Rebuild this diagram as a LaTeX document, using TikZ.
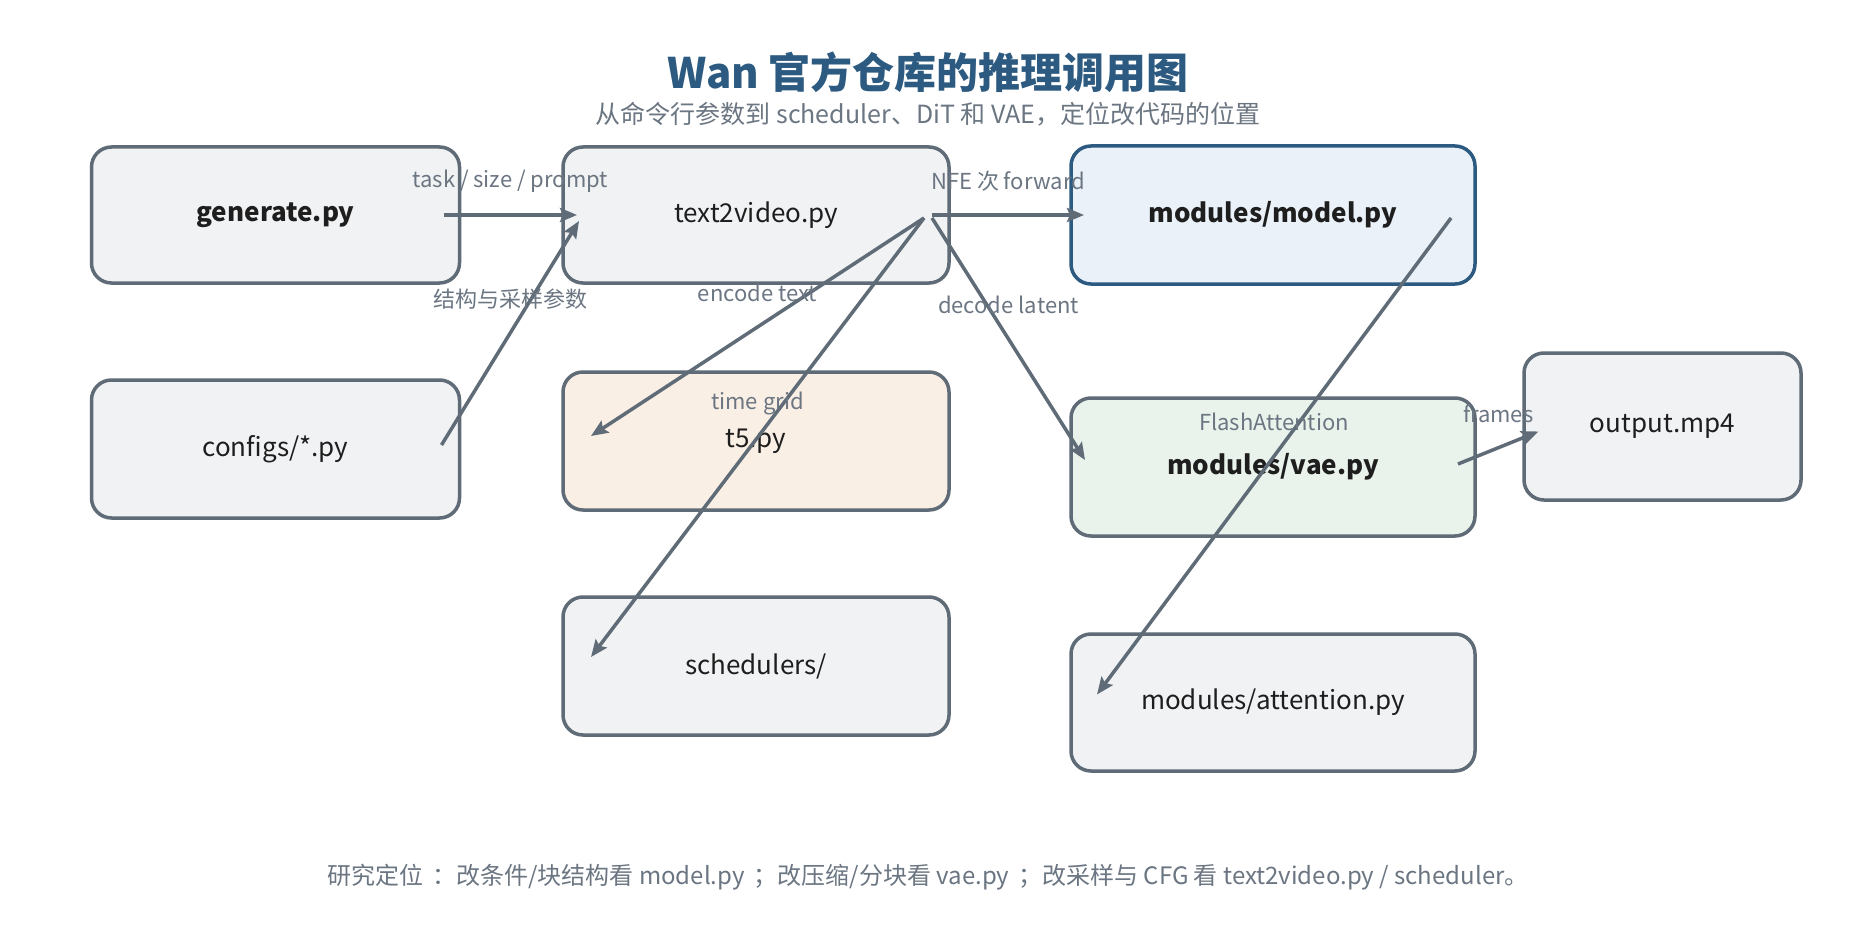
\documentclass[tikz,border=0pt]{standalone}
\usepackage{fontspec}
\setmainfont{Noto Sans CJK SC}
\usetikzlibrary{arrows.meta,calc}
\definecolor{edgec}{HTML}{5F6B76}
\definecolor{labc}{HTML}{6B7682}
\definecolor{titc}{HTML}{2C5A80}
\definecolor{txtc}{HTML}{1E1E1E}
\definecolor{grayf}{HTML}{F1F2F4}
\definecolor{bluef}{HTML}{EAF1F8}
\definecolor{orf}{HTML}{FAEFE5}
\definecolor{grf}{HTML}{E9F3EB}
\tikzset{
  box/.style={rectangle, rounded corners=20pt, draw=edgec, line width=3.5pt, fill=grayf,
    inner sep=0pt, anchor=center, text=txtc, font=\fontsize{26pt}{30pt}\selectfont},
  conn/.style={draw=edgec, line width=3.5pt, -{Stealth[length=17pt,width=14pt,inset=3pt]}},
  elab/.style={midway, yshift=34pt, inner sep=0pt, text=labc, font=\fontsize{22pt}{26pt}\selectfont},
}
\begin{document}
\begin{tikzpicture}[x=1pt,y=-1pt]
\useasboundingbox[fill=white] (0,0) rectangle (1856,944);
\node[text=titc, font=\fontsize{42pt}{48pt}\selectfont\bfseries] (title) at (928,72) {Wan 官方仓库的推理调用图};
\node[text=labc, font=\fontsize{25pt}{29pt}\selectfont] (sub) at (928,114) {从命令行参数到 scheduler、DiT 和 VAE，定位改代码的位置};

\node[box, minimum width=368pt, minimum height=136pt] (gen) at (275.5,215) {\bfseries generate.py};
\node[box, minimum width=386pt, minimum height=136pt] (t2v) at (756,215) {text2video.py};
\node[box, minimum width=404pt, minimum height=138pt, draw=titc, fill=bluef] (model) at (1273,215) {\bfseries modules/model.py};
\node[box, minimum width=368pt, minimum height=138pt] (cfg) at (275.5,449) {configs/*.py};
\node[box, minimum width=386pt, minimum height=138pt, fill=orf] (t5) at (756,441) {t5.py};
\node[box, minimum width=386pt, minimum height=138pt] (sched) at (756,666) {schedulers/};
\node[box, minimum width=404pt, minimum height=138pt, fill=grf] (vae) at (1273,467) {\bfseries modules/vae.py};
\node[box, minimum width=404pt, minimum height=137pt] (att) at (1273,702.5) {modules/attention.py};
\node[box, minimum width=277pt, minimum height=147pt] (out) at (1662.5,426.5) {output.mp4};

\draw[conn] ($(gen)+(168,0)$) -- ($(t2v)+(-179,0)$) node[elab] {task / size / prompt};
\draw[conn] ($(cfg)+(166,-4)$) -- ($(t2v)+(-177,6)$) node[elab] {结构与采样参数};
\draw[conn] ($(t2v)+(176,0)$) -- ($(model)+(-189,0)$) node[elab] {NFE 次 forward};
\draw[conn] ($(t2v)+(168,3)$) -- ($(t5)+(-165,-5)$) node[elab] {encode text};
\draw[conn] ($(t2v)+(168,3)$) -- ($(sched)+(-165,-9)$) node[elab] {time grid};
\draw[conn] ($(t2v)+(176,3)$) -- ($(vae)+(-188,-7)$) node[elab] {decode latent};
\draw[conn] ($(model)+(178,3)$) -- ($(att)+(-176,-8)$) node[elab] {FlashAttention};
\draw[conn] ($(vae)+(185,-3)$) -- ($(out)+(-124,5)$) node[elab] {frames};

\node[text=labc, font=\fontsize{24pt}{28pt}\selectfont] (foot) at (928,877) {研究定位\hspace{9pt}：改条件/块结构看 model.py\hspace{9pt}；改压缩/分块看 vae.py\hspace{9pt}；改采样与 CFG 看 text2video.py / scheduler。};
\end{tikzpicture}
\end{document}
